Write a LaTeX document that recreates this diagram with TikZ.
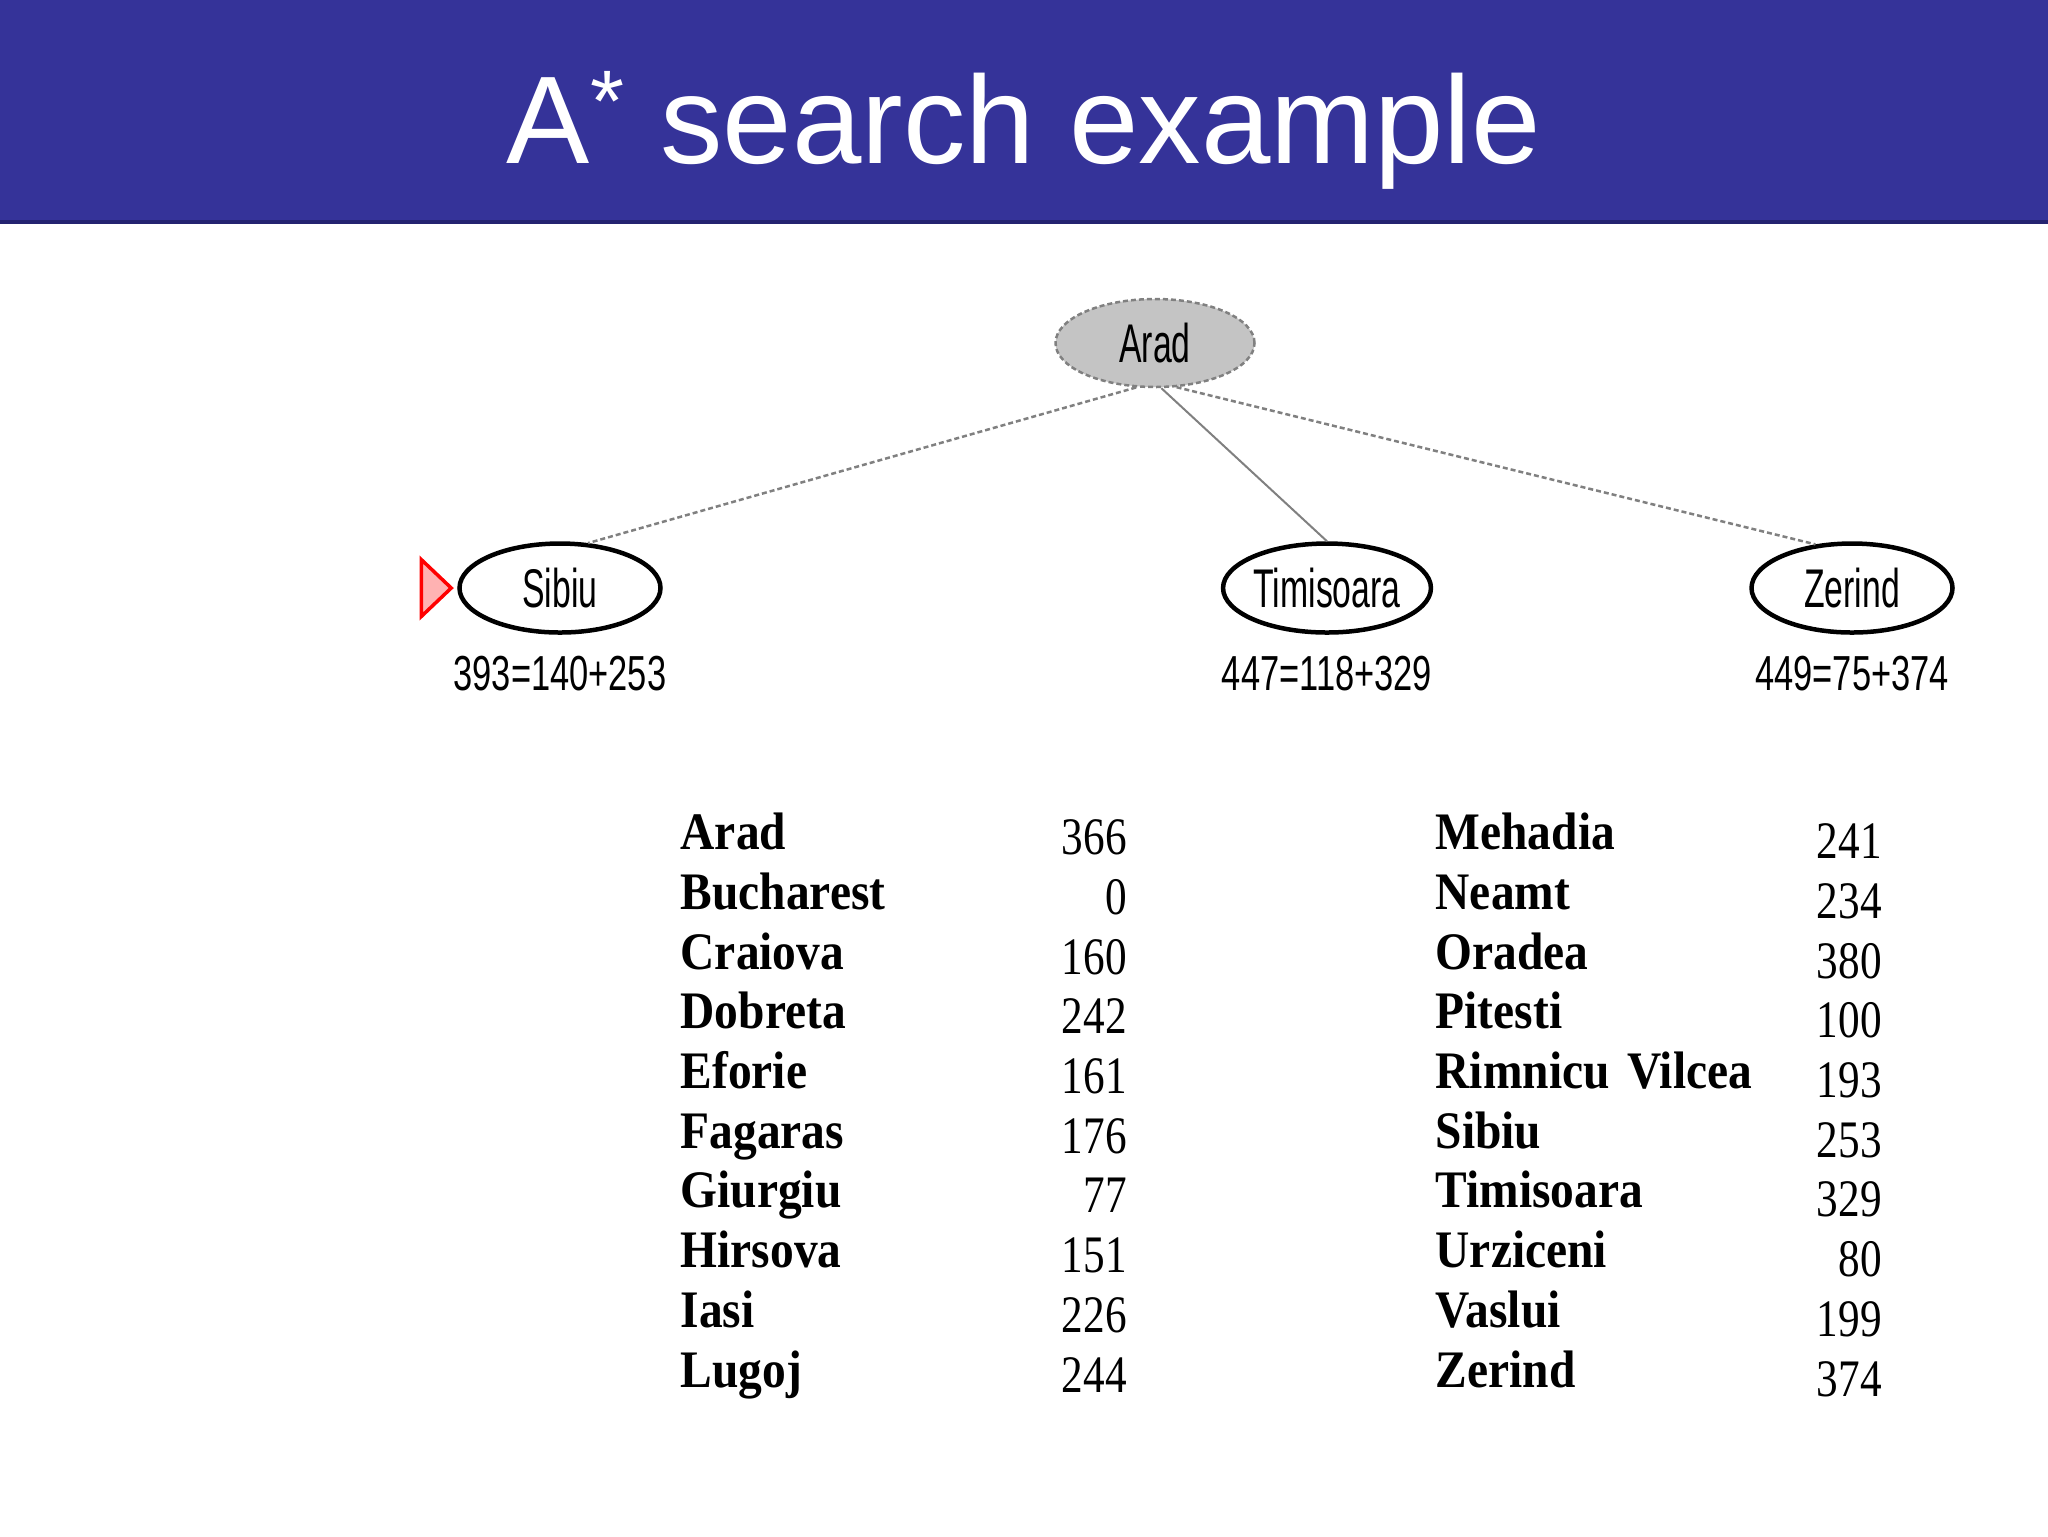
\documentclass[tikz,border=0pt]{standalone}
\usepackage{fontspec}
\setmainfont{Liberation Serif}
\newfontfamily\titlefont{Liberation Sans}
\newfontfamily\treefont[FakeStretch=0.62]{Liberation Sans}
\newfontfamily\costfont[FakeStretch=0.7]{Liberation Sans}
\newfontfamily\cityfont[FakeStretch=0.9]{Liberation Serif}
\newfontfamily\hfont[FakeStretch=0.82]{Liberation Serif}
\usetikzlibrary{shapes.geometric,positioning,matrix}
\definecolor{bandblue}{RGB}{53,51,153}
\definecolor{bandedge}{RGB}{36,35,112}
\definecolor{nodegray}{RGB}{196,196,196}
\definecolor{edgegray}{RGB}{128,128,128}
\tikzset{
  titletext/.style={anchor=base, text=white, inner sep=0pt,
    font=\titlefont\fontsize{35.5pt}{40pt}\selectfont},
  rootnode/.style ={ellipse, minimum width=19.9mm, minimum height=8.8mm, inner sep=0pt,
    fill=nodegray, draw=edgegray, line width=0.25mm, dash pattern=on 0.5mm off 0.3mm,
    font=\treefont\fontsize{15.5pt}{17pt}\selectfont},
  leafnode/.style ={ellipse, minimum width=20.1mm, minimum height=8.9mm, inner sep=0pt,
    draw=black, line width=0.45mm, font=\treefont\fontsize{15.5pt}{17pt}\selectfont},
  costlabel/.style={inner sep=0pt, font=\costfont\fontsize{14pt}{16pt}\selectfont},
  openmark/.style ={draw=red, fill=red!30, line width=0.35mm, line join=miter},
  treeedge/.style ={draw=edgegray, line width=0.25mm, dash pattern=on 0.5mm off 0.3mm},
  treeline/.style ={draw=edgegray, line width=0.2mm}}
\tikzset{
  heurtable/.style={matrix of nodes, inner sep=0pt, row sep=0.87mm, column sep=0pt},
  citycell/.style ={align=left, inner sep=0pt, text height=3.9mm, text depth=1.2mm,
    font=\cityfont\bfseries\fontsize{15pt}{17pt}\selectfont},
  valuecell/.style={align=right, inner sep=0pt,
    font=\hfont\fontsize{15pt}{17pt}\selectfont},
}
\begin{document}
\begin{tikzpicture}[x=0.1mm, y=-0.1mm]
\useasboundingbox (0,0) rectangle (2048,1536);

% Title band
\fill[bandblue] (0,0) rectangle (2048,224);
\draw[bandedge, line width=0.4mm] (0,222) -- (2048,222);
\node[titletext] (title) at (1024,163) {A\textsuperscript{*} search example};

% Search tree
\node[rootnode] (arad) at (1155,343) {Arad};
\node[leafnode] (sibiu) at (560,588) {Sibiu};
\node[leafnode] (timisoara) at (1327,588) {Timisoara};
\node[leafnode] (zerind) at (1852,588) {Zerind};

\node[costlabel, below=2.1mm of sibiu] (fsibiu) {393=140+253};
\node[costlabel, below=2.1mm of timisoara] (ftimisoara) {447=118+329};
\node[costlabel, below=2.1mm of zerind] (fzerind) {449=75+374};

\coordinate[left=0.6mm of sibiu] (mark);
\draw[openmark] (mark) -- ++(-3mm,2.85mm) -- ++(0,-5.7mm) -- cycle;

\path
  (arad.247) edge[treeedge] (sibiu.58)
  (arad.278) edge[treeline] (timisoara.north)
  (arad.296) edge[treeedge] (zerind.130);

% Straight-line distances to Bucharest
\matrix[heurtable, anchor=north west,
  column 1/.style={nodes={citycell, text width=25mm}},
  column 2/.style={nodes={valuecell, text width=19.6mm,
    yshift=-0.5mm, text height=4.4mm, text depth=0.7mm}}] (hl) at (680,810) {
Arad      & 366 \\
Bucharest & 0   \\
Craiova   & 160 \\
Dobreta   & 242 \\
Eforie    & 161 \\
Fagaras   & 176 \\
Giurgiu   & 77  \\
Hirsova   & 151 \\
Iasi      & 226 \\
Lugoj     & 244 \\
};
\matrix[heurtable, anchor=north west,
  column 1/.style={nodes={citycell, text width=33mm}},
  column 2/.style={nodes={valuecell, text width=11.6mm,
    yshift=-0.9mm, text height=4.8mm, text depth=0.3mm}}] (hr) at (1435,810) {
Mehadia         & 241 \\
Neamt           & 234 \\
Oradea          & 380 \\
Pitesti         & 100 \\
Rimnicu Vilcea  & 193 \\
Sibiu           & 253 \\
Timisoara       & 329 \\
Urziceni        & 80  \\
Vaslui          & 199 \\
Zerind          & 374 \\
};
\end{tikzpicture}
\end{document}
